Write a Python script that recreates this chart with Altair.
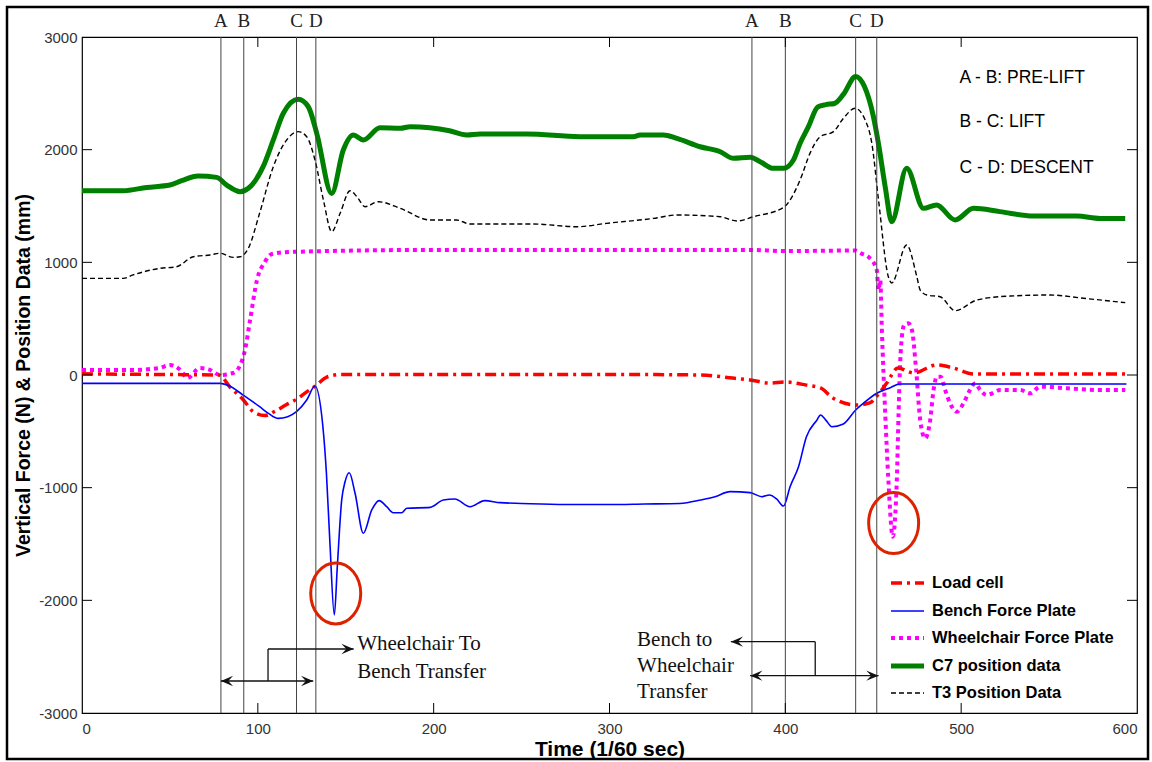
import altair as alt
import pandas as pd

# ---------------- data ----------------
load_x = [0, 40, 78, 84, 91.8, 97.4, 104, 110, 116.4, 122, 127.8, 133, 139, 147, 200, 300, 352, 370, 380, 391, 400, 412, 420, 427, 440.6, 448, 453, 457.7, 464, 473, 486, 495.6, 507, 550, 594]
load_y = [10, 5, 0, -104, -222, -326, -360, -320, -262, -215, -150, -95, -20, 5, 5, 5, 0, -27, -44, -71, -62, -90, -115, -204, -266, -248, -170, -71, 62, 18, 89, 62, 9, 9, 9]

bench_x = [0, 78.5, 84, 91.6, 101, 106, 111.6, 117, 122, 127.8, 132.5, 137, 139, 141, 143.5, 145.2, 147.7, 149.6, 152, 155.3, 160, 164.8, 169, 173.3, 177, 181.8, 184.7, 198, 205.5, 212, 220.7, 229, 237.8, 250, 275, 300, 320, 340, 352, 360, 368.6, 380, 386.6, 391, 395, 399, 402.7, 407.5, 412, 418, 420, 423, 426.5, 433, 440, 444.4, 452, 460, 465, 484, 594]
bench_y = [-74, -74, -98, -178, -281, -340, -385, -370, -326, -222, -98, -459, -870, -1491, -2130, -1701, -1109, -947, -867, -1050, -1405, -1198, -1115, -1169, -1222, -1222, -1183, -1175, -1109, -1100, -1169, -1115, -1133, -1140, -1150, -1150, -1145, -1140, -1109, -1080, -1035, -1044, -1080, -1065, -1100, -1163, -991, -814, -548, -399, -355, -400, -459, -435, -311, -251, -162, -110, -80, -80, -80]

wc_x = [0, 27, 44, 50, 56, 60, 67, 73, 78.5, 86, 90, 92.7, 95.6, 99.5, 104, 108, 118, 200, 300, 380, 400, 440, 442.6, 448, 452, 453, 454, 454.9, 456.8, 458.6, 461.1, 463.4, 464.4, 465.3, 466.3, 467.6, 470, 472, 474.4, 476.7, 479.5, 482.4, 484.3, 486.2, 488.4, 490.9, 493.7, 497.5, 501.3, 505, 508, 510.8, 514.6, 522.2, 533.6, 539.2, 545, 560, 579, 593.3]
wc_y = [44, 44, 62, 89, 44, -27, 62, 44, 0, 18, 89, 222, 488, 843, 1003, 1074, 1092, 1110, 1110, 1110, 1100, 1105, 1083, 1038, 932, 754, 843, 400, -340, -932, -1435, -932, -340, 104, 340, 444, 459, 400, 44, -399, -562, -399, -133, -15, -15, -133, -251, -326, -251, -133, -74, -133, -178, -133, -133, -163, -104, -118, -133, -133]

c7_x = [0, 23.5, 36.8, 50, 56.7, 66, 76.6, 82.3, 90, 94.6, 103, 108.8, 114.5, 123, 128.7, 133.5, 142, 148.6, 154.3, 160, 169.5, 181, 186.6, 209, 218.8, 226.4, 253, 283, 313.6, 317.4, 330.7, 338.3, 351.5, 363, 370.5, 380, 385.7, 393.2, 399, 404.6, 408.4, 413, 418.5, 423, 428, 433, 440, 445, 450, 453, 457, 460.5, 469, 478.6, 486, 496.6, 507, 522, 541, 565.8, 579, 593.3]
c7_y = [1636, 1636, 1665, 1686, 1725, 1766, 1754, 1686, 1627, 1657, 1849, 2086, 2323, 2447, 2381, 2145, 1612, 1997, 2130, 2086, 2195, 2189, 2204, 2168, 2130, 2139, 2139, 2115, 2115, 2130, 2130, 2100, 2026, 1982, 1923, 1932, 1893, 1834, 1834, 1908, 2056, 2200, 2380, 2400, 2410, 2490, 2650, 2560, 2300, 2050, 1650, 1360, 1834, 1479, 1509, 1376, 1479, 1450, 1411, 1411, 1390, 1390]

t3_x = [0, 23.5, 29, 44.4, 53.8, 63.3, 72.8, 78.5, 86, 90, 94.6, 101, 108.8, 116.4, 123, 127.8, 132.5, 137.3, 142, 146.8, 152.4, 156.3, 161, 168.6, 181, 198, 213, 220.7, 256.7, 281.4, 298.4, 325, 338.3, 363, 372.4, 381.9, 399, 408.4, 414, 419.8, 427.4, 433, 439.7, 445.4, 449.2, 453, 458.6, 460.5, 469, 474.8, 476.7, 480.5, 488, 496.6, 509, 528, 550.6, 569.6, 593.3]
t3_y = [858, 858, 888, 947, 961, 1050, 1065, 1080, 1044, 1050, 1124, 1435, 1849, 2086, 2160, 2115, 1908, 1553, 1272, 1435, 1636, 1583, 1494, 1538, 1479, 1376, 1376, 1340, 1340, 1316, 1346, 1390, 1420, 1405, 1367, 1405, 1488, 1731, 1967, 2115, 2160, 2278, 2367, 2263, 2056, 1553, 872, 817, 1154, 872, 754, 710, 695, 571, 666, 701, 710, 681, 642]

series_names = ["Load cell", "Bench Force Plate", "Wheelchair Force Plate", "C7 position data", "T3 Position Data"]

event_x = [79, 92, 122, 133, 381, 400, 440, 452]
event_letters = ["A", "B", "C", "D", "A", "B", "C", "D"]

phase_text = ["A - B: PRE-LIFT", "B - C: LIFT", "C - D: DESCENT"]
phase_x = [499, 499, 499]
phase_y = [2636, 2245, 1837]

note_text = ["Wheelchair To", "Bench Transfer", "Bench to", "Wheelchair", "Transfer"]
note_x = [156.5, 156.5, 315.7, 315.7, 315.7]
note_y = [-2388, -2636, -2352, -2583, -2814]

# arrow segments (x, y) -> (x2, y2)
seg_x = [79, 105.8, 105.8, 380, 417, 417]
seg_y = [-2716, -2716, -2432, -2669, -2669, -2367]
seg_x2 = [131.5, 105.8, 154.5, 453, 417, 369]
seg_y2 = [-2716, -2432, -2432, -2669, -2367, -2367]

head_x = [79, 131.5, 154.5, 380, 453, 369]
head_y = [-2716, -2716, -2432, -2669, -2669, -2367]
head_dir = ["left", "right", "right", "left", "right", "left"]

circle_x = [144.3, 461.6]
circle_y = [-1939, -1314]

x_ticks = [0, 100, 200, 300, 400, 500, 600]
y_ticks = [-3000, -2000, -1000, 0, 1000, 2000, 3000]
inner_x_ticks = [100, 200, 300, 400, 500]
inner_y_ticks = [-2000, -1000, 0, 1000, 2000]

# ---------------- layout ----------------
W, H = 1055, 676
SANS = "Liberation Sans"
SERIF = "Liberation Serif"

xs = alt.Scale(domain=[0, 600], nice=False, zero=False)
ys = alt.Scale(domain=[-3000, 3000], nice=False, zero=False)

X = alt.X("x:Q", scale=xs, axis=alt.Axis(values=x_ticks, ticks=False, domain=False, grid=False,
          labelFont=SANS, labelFontSize=15, labelColor="#333", labelPadding=8,
          labelExpr="datum.value + ''",
          title="Time (1/60 sec)", titleFont=SANS, titleFontSize=21, titleFontWeight="bold",
          titleColor="black", titlePadding=2))
Y = alt.Y("y:Q", scale=ys, axis=alt.Axis(values=y_ticks, ticks=False, domain=False, grid=False,
          labelFont=SANS, labelFontSize=15, labelColor="#333", labelPadding=5,
          labelExpr="datum.value + ''",
          title="Vertical Force (N) & Position Data (mm)", titleFont=SANS, titleFontSize=19.5,
          titleFontWeight="bold", titleColor="black", titlePadding=5))

styles = [
    dict(color="#ff0000", strokeDash=[11, 5, 3, 5], strokeWidth=3.5),
    dict(color="#0000ff", strokeWidth=1.6),
    dict(color="#ff00ff", strokeDash=[4, 4], strokeWidth=4),
    dict(color="#008000", strokeWidth=5),
    dict(color="#000000", strokeDash=[5, 3], strokeWidth=1.4),
]
series_data = [(load_x, load_y), (bench_x, bench_y), (wc_x, wc_y), (c7_x, c7_y), (t3_x, t3_y)]
legend_y = [546, 574, 601, 629, 656]

layers = []

# event lines
ev_df = pd.DataFrame({"x": event_x, "letter": event_letters})
layers.append(alt.Chart(ev_df).mark_rule(color="#444", strokeWidth=1).encode(x=alt.X("x:Q", scale=xs)))
layers.append(alt.Chart(ev_df).mark_text(font=SERIF, fontSize=19, baseline="middle", align="center", color="#222")
              .encode(x=alt.X("x:Q", scale=xs), y=alt.value(-16), text="letter:N"))

# inner ticks
xt = pd.DataFrame({"x": inner_x_ticks})
yt = pd.DataFrame({"y": inner_y_ticks})
layers.append(alt.Chart(xt).mark_rule(color="black").encode(x=alt.X("x:Q", scale=xs), y=alt.value(H), y2=alt.value(H - 10)))
layers.append(alt.Chart(xt).mark_rule(color="black").encode(x=alt.X("x:Q", scale=xs), y=alt.value(0), y2=alt.value(10)))
layers.append(alt.Chart(yt).mark_rule(color="black").encode(y=alt.Y("y:Q", scale=ys), x=alt.value(0), x2=alt.value(10)))
layers.append(alt.Chart(yt).mark_rule(color="black").encode(y=alt.Y("y:Q", scale=ys), x=alt.value(W - 10), x2=alt.value(W)))

# series lines
line_layers = []
for (sx, sy), st in zip(series_data, styles):
    df = pd.DataFrame({"x": sx, "y": sy})
    line_layers.append(alt.Chart(df).mark_line(interpolate="monotone", strokeCap="butt", **st).encode(x=X, y=Y))
# draw order: C7, T3, wheelchair, load, bench
order = [3, 4, 2, 0, 1]

# legend
for name, st, ly in zip(series_names, styles, legend_y):
    ldf = pd.DataFrame({"label": [name]})
    layers.append(alt.Chart(ldf).mark_rule(strokeCap="butt", **st).encode(x=alt.value(809), x2=alt.value(842), y=alt.value(ly)))
    layers.append(alt.Chart(ldf).mark_text(font=SANS, fontSize=16.5, fontWeight="bold", align="left", baseline="middle", color="black")
                  .encode(x=alt.value(850), y=alt.value(ly), text="label:N"))

# phase text
ph = pd.DataFrame({"x": phase_x, "y": phase_y, "t": phase_text})
layers.append(alt.Chart(ph).mark_text(font=SANS, fontSize=17.5, align="left", baseline="middle", color="black")
              .encode(x=alt.X("x:Q", scale=xs), y=alt.Y("y:Q", scale=ys), text="t:N"))

# notes
nt = pd.DataFrame({"x": note_x, "y": note_y, "t": note_text})
layers.append(alt.Chart(nt).mark_text(font=SERIF, fontSize=21, align="left", baseline="middle", color="#111")
              .encode(x=alt.X("x:Q", scale=xs), y=alt.Y("y:Q", scale=ys), text="t:N"))

# arrows
sg = pd.DataFrame({"x": seg_x, "y": seg_y, "x2": seg_x2, "y2": seg_y2})
layers.append(alt.Chart(sg).mark_rule(color="#111", strokeWidth=1.3)
              .encode(x=alt.X("x:Q", scale=xs), y=alt.Y("y:Q", scale=ys), x2="x2:Q", y2="y2:Q"))
right_head = "M 0 0 L -1 -0.42 L -0.6 0 L -1 0.42 Z"
left_head = "M 0 0 L 1 -0.42 L 0.6 0 L 1 0.42 Z"
hd = pd.DataFrame({"x": head_x, "y": head_y, "d": head_dir})
layers.append(alt.Chart(hd).mark_point(filled=True, color="#111", size=600, opacity=1)
              .encode(x=alt.X("x:Q", scale=xs), y=alt.Y("y:Q", scale=ys),
                      shape=alt.Shape("d:N", scale=alt.Scale(domain=["left", "right"], range=[left_head, right_head]), legend=None)))

# circles
ellipse = ("M 1 0 C 1 0.674 0.552 1.22 0 1.22 C -0.552 1.22 -1 0.674 -1 0 "
           "C -1 -0.674 -0.552 -1.22 0 -1.22 C 0.552 -1.22 1 -0.674 1 0 Z")
cc = pd.DataFrame({"x": circle_x, "y": circle_y})
layers.append(alt.Chart(cc).mark_point(shape=ellipse, size=2500, filled=False, stroke="#dd2200", strokeWidth=3, opacity=1)
              .encode(x=alt.X("x:Q", scale=xs), y=alt.Y("y:Q", scale=ys)))

# outer frame
frame_df = pd.DataFrame({"k": [0]})
layers.append(alt.Chart(frame_df).mark_rect(filled=False, stroke="black", strokeWidth=2.5, fill=None)
              .encode(x=alt.value(-75), x2=alt.value(1066), y=alt.value(-30), y2=alt.value(722)))

all_layers = [line_layers[i] for i in order] + layers
chart = alt.layer(*all_layers).properties(
    width=W, height=H,
    autosize=alt.AutoSizeParams(type="none"),
    padding={"left": 82, "top": 37, "right": 15, "bottom": 49},
    background="white",
).configure_view(stroke="black", strokeWidth=1.2)

chart.save("out.html", embed_options={"renderer": "svg", "actions": False})
